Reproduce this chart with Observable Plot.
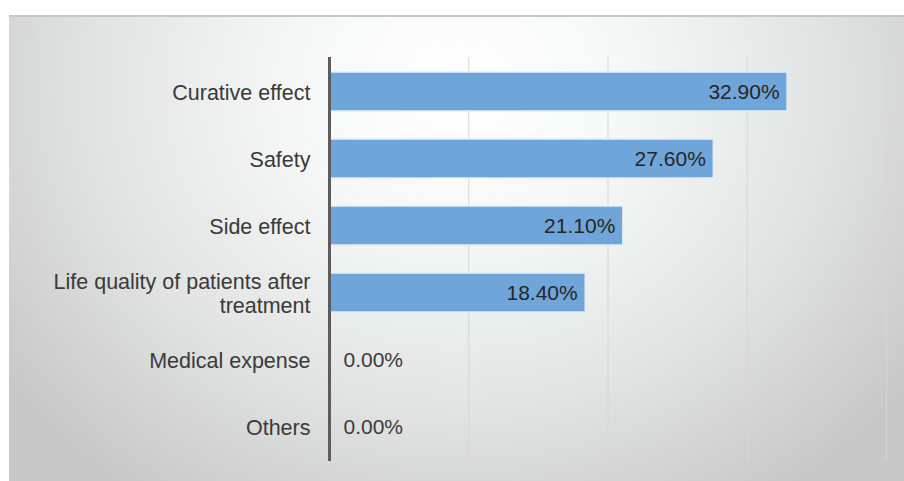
<!DOCTYPE html>
<html>
<head>
<meta charset="utf-8">
<script src="https://cdn.jsdelivr.net/npm/d3@7"></script>
<script src="https://cdn.jsdelivr.net/npm/@observablehq/plot@0.6"></script>
<style>
  html, body { margin: 0; padding: 0; background: #ffffff; }
  #wrap { position: relative; width: 904px; height: 481px; overflow: hidden; }
  #bg {
    position: absolute; left: 9px; top: 15px; width: 900px; height: 470px;
    border-top: 2px solid #c6c6c6;
    background: radial-gradient(ellipse 62% 105% at 50% 15%, #ffffff 0%, #f6f7f7 30%, #e2e3e3 65%, #c8c8c8 100%);
  }
  #chart { position: absolute; left: 0; top: 0; }
</style>
</head>
<body>
<div id="wrap"><div id="bg"></div><div id="chart"></div></div>
<script>
const categories = ["Curative effect", "Safety", "Side effect", "Life quality of patients after\ntreatment", "Medical expense", "Others"];
const values = [32.9, 27.6, 21.1, 18.4, 0.0, 0.0];
const gridTicks = [10, 20, 30, 40];

const data = categories.map((c, i) => ({category: c, value: values[i]}));

const font = "'Liberation Sans', Arial, Helvetica, sans-serif";

const chart = Plot.plot({
  width: 904,
  height: 481,
  marginLeft: 329,
  marginRight: 18,
  marginTop: 57,
  marginBottom: 20,
  style: {background: "transparent", fontFamily: font, fontSize: "21px", color: "#333"},
  x: {domain: [0, 40], axis: null},
  y: {domain: categories, paddingInner: 0.42, paddingOuter: 0.21, label: null},
  marks: [
    Plot.ruleX(gridTicks, {stroke: "#d6d6d6", strokeWidth: 1}),
    Plot.barX(data, {y: "category", x: "value", fill: "#6fa5d8", stroke: "#e3edf7", strokeWidth: 1.5}),
    Plot.ruleX([0], {stroke: "#5c5c5c", strokeWidth: 3}),
    Plot.text(data.filter(d => d.value > 0), {
      y: "category", x: "value", text: d => d.value.toFixed(2) + "%",
      textAnchor: "end", dx: -8, fill: "#262626", fontSize: 21
    }),
    Plot.text(data.filter(d => d.value === 0), {
      y: "category", x: "value", text: d => d.value.toFixed(2) + "%",
      textAnchor: "start", dx: 14, fill: "#3a3a3a", fontSize: 21
    }),
    Plot.axisY({tickSize: 0, tickPadding: 19, fontSize: 21.5, fill: "#3a3a3a", lineHeight: 1.12, label: null})
  ]
});
document.getElementById("chart").appendChild(chart);
</script>
</body>
</html>
